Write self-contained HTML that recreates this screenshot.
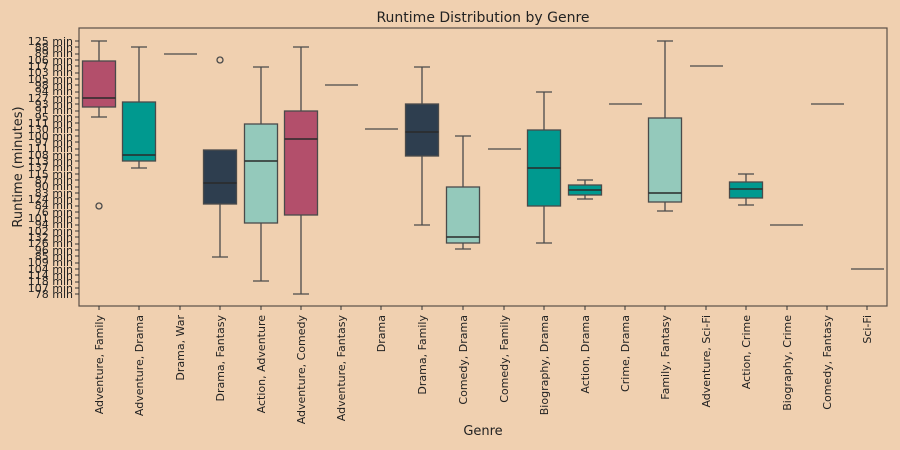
<!DOCTYPE html>
<html><head><meta charset="utf-8"><style>
body{margin:0;background:#f0d0b0;}
svg{display:block;font-family:"DejaVu Sans","Liberation Sans",sans-serif;fill:#222;}
</style></head><body>
<svg width="900" height="450" viewBox="0 0 900 450" xmlns="http://www.w3.org/2000/svg">
<rect width="900" height="450" fill="#f0d0b0"/>
<text x="483" y="22" font-size="14" text-anchor="middle">Runtime Distribution by Genre</text>
<rect x="79" y="28" width="808" height="278" fill="none" stroke="#5a5048" stroke-width="1.2"/>
<text transform="translate(22,167) rotate(-90)" font-size="13" text-anchor="middle">Runtime (minutes)</text>
<text x="483" y="435" font-size="13" text-anchor="middle">Genre</text>
<g font-size="11" text-anchor="end">
<text x="73" y="45">125 min</text><text x="73" y="51">88 min</text><text x="73" y="57">89 min</text><text x="73" y="64">106 min</text><text x="73" y="70">117 min</text><text x="73" y="76">103 min</text><text x="73" y="83">105 min</text><text x="73" y="89">98 min</text><text x="73" y="95">94 min</text><text x="73" y="102">127 min</text><text x="73" y="108">93 min</text><text x="73" y="114">91 min</text><text x="73" y="121">95 min</text><text x="73" y="127">111 min</text><text x="73" y="133">130 min</text><text x="73" y="140">100 min</text><text x="73" y="146">97 min</text><text x="73" y="152">111 min</text><text x="73" y="159">108 min</text><text x="73" y="165">113 min</text><text x="73" y="171">137 min</text><text x="73" y="178">115 min</text><text x="73" y="184">87 min</text><text x="73" y="190">90 min</text><text x="73" y="197">83 min</text><text x="73" y="203">124 min</text><text x="73" y="209">84 min</text><text x="73" y="216">76 min</text><text x="73" y="222">101 min</text><text x="73" y="228">94 min</text><text x="73" y="235">102 min</text><text x="73" y="241">132 min</text><text x="73" y="247">126 min</text><text x="73" y="254">96 min</text><text x="73" y="260">85 min</text><text x="73" y="266">109 min</text><text x="73" y="273">104 min</text><text x="73" y="279">114 min</text><text x="73" y="285">118 min</text><text x="73" y="292">107 min</text><text x="73" y="298">78 min</text>
</g>
<path stroke="#333" stroke-width="1" d="M75 41h4M75 47h4M75 54h4M75 60h4M75 66h4M75 73h4M75 79h4M75 85h4M75 92h4M75 98h4M75 104h4M75 111h4M75 117h4M75 123h4M75 130h4M75 136h4M75 142h4M75 149h4M75 155h4M75 161h4M75 168h4M75 174h4M75 180h4M75 187h4M75 193h4M75 199h4M75 206h4M75 212h4M75 218h4M75 225h4M75 231h4M75 237h4M75 244h4M75 250h4M75 256h4M75 263h4M75 269h4M75 275h4M75 282h4M75 288h4M75 294h4"/>
<path stroke="#333" stroke-width="1" d="M99 306v4M139 306v4M180 306v4M220 306v4M261 306v4M301 306v4M341 306v4M381 306v4M422 306v4M463 306v4M504 306v4M544 306v4M585 306v4M625 306v4M665 306v4M706 306v4M746 306v4M787 306v4M827 306v4M867 306v4"/>
<g font-size="11" text-anchor="end">
<text transform="translate(103,315) rotate(-90)">Adventure, Family</text>
<text transform="translate(143,315) rotate(-90)">Adventure, Drama</text>
<text transform="translate(184,315) rotate(-90)">Drama, War</text>
<text transform="translate(224,315) rotate(-90)">Drama, Fantasy</text>
<text transform="translate(265,315) rotate(-90)">Action, Adventure</text>
<text transform="translate(305,315) rotate(-90)">Adventure, Comedy</text>
<text transform="translate(345,315) rotate(-90)">Adventure, Fantasy</text>
<text transform="translate(385,315) rotate(-90)">Drama</text>
<text transform="translate(426,315) rotate(-90)">Drama, Family</text>
<text transform="translate(467,315) rotate(-90)">Comedy, Drama</text>
<text transform="translate(508,315) rotate(-90)">Comedy, Family</text>
<text transform="translate(548,315) rotate(-90)">Biography, Drama</text>
<text transform="translate(589,315) rotate(-90)">Action, Drama</text>
<text transform="translate(629,315) rotate(-90)">Crime, Drama</text>
<text transform="translate(669,315) rotate(-90)">Family, Fantasy</text>
<text transform="translate(710,315) rotate(-90)">Adventure, Sci-Fi</text>
<text transform="translate(750,315) rotate(-90)">Action, Crime</text>
<text transform="translate(791,315) rotate(-90)">Biography, Crime</text>
<text transform="translate(831,315) rotate(-90)">Comedy, Fantasy</text>
<text transform="translate(871,315) rotate(-90)">Sci-Fi</text>
</g>
<g stroke="#4a4a4a" stroke-width="1.3">
<!-- whiskers -->
<path fill="none" d="M99 41v20M99 107v10M91 41h16M91 117h16
M139 47v55M139 161v7M131 47h16M131 168h16
M220 204v53M212 257h16
M261 67v57M261 223v58M253 67h16M253 281h16
M301 47v64M301 215v79M293 47h16M293 294h16
M422 67v37M422 156v69M414 67h16M414 225h16
M463 136v51M463 243v6M455 136h16M455 249h16
M544 92v38M544 206v37M536 92h16M536 243h16
M585 180v5M585 195v4M577 180h16M577 199h16
M665 41v77M665 202v9M657 41h16M657 211h16
M746 174v8M746 198v7M738 174h16M738 205h16"/>
<!-- single lines -->
<path d="M164 54h33M325 85h33M365 129h33M488 149h33M609 104h33M690 66h33M770 225h33M811 104h33M851 269h33"/>
<rect x="82.5" y="61" width="33" height="46" fill="#b34f6b"/>
<rect x="122.5" y="102" width="33" height="59" fill="#00998f"/>
<rect x="203.5" y="150" width="33" height="54" fill="#2e3e4f"/>
<rect x="244.5" y="124" width="33" height="99" fill="#94c9bb"/>
<rect x="284.5" y="111" width="33" height="104" fill="#b34f6b"/>
<rect x="405.5" y="104" width="33" height="52" fill="#2e3e4f"/>
<rect x="446.5" y="187" width="33" height="56" fill="#94c9bb"/>
<rect x="527.5" y="130" width="33" height="76" fill="#00998f"/>
<rect x="568.5" y="185" width="33" height="10" fill="#00998f"/>
<rect x="648.5" y="118" width="33" height="84" fill="#94c9bb"/>
<rect x="729.5" y="182" width="33" height="16" fill="#00998f"/>
<circle cx="99" cy="206" r="3" fill="none"/>
<circle cx="220" cy="60" r="3" fill="none"/>
</g>
<g stroke="#2a2a2a" stroke-width="1.6">
<path d="M82.5 98h33M122.5 155h33M203.5 183h33M244.5 161h33M284.5 139h33M405.5 132h33M446.5 237h33M527.5 168h33M568.5 190h33M648.5 193h33M729.5 189h33"/>
</g>
</svg>
</body></html>
